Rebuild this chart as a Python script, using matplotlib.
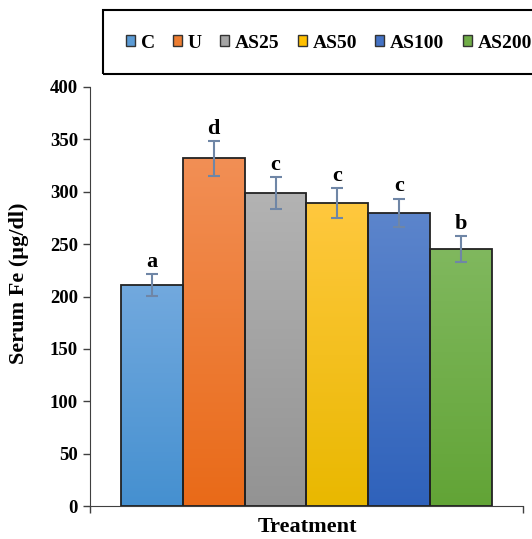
import numpy as np
import matplotlib.pyplot as plt
from matplotlib.patches import Rectangle
from matplotlib.colors import LinearSegmentedColormap

plt.rcParams['font.family'] = ['Liberation Serif', 'DejaVu Serif']
plt.rcParams['font.weight'] = 'bold'

groups = ['C', 'U', 'AS25', 'AS50', 'AS100', 'AS200']
means = [211, 332, 299, 289, 280, 245]
errors = [10.5, 16.5, 15, 14.5, 13.5, 12.5]
letters = ['a', 'd', 'c', 'c', 'c', 'b']
# (top colour, bottom colour) of each bar's gradient
top_colors = ['#72a9de', '#f28f55', '#b3b3b3', '#ffc83e', '#5c85cc', '#80b85e']
bottom_colors = ['#4590d0', '#e96a18', '#939393', '#e9b800', '#2f62bb', '#62a436']
legend_colors = ['#5b9bd5', '#ed7d31', '#a5a5a5', '#ffc000', '#4472c4', '#70ad47']

W, H = 532, 539
fig = plt.figure(figsize=(5.32, 5.39), dpi=100)
ax = fig.add_axes([0.169, 0.0612, 0.814, 0.7774])

x = np.arange(len(groups))
bars = ax.bar(x, means, width=1.0, color='none', edgecolor='#222222', linewidth=1.3, zorder=3)

# vertical gradient inside each bar
for b, c1, c2 in zip(bars, top_colors, bottom_colors):
    cmap = LinearSegmentedColormap.from_list('g', [c2, c1])
    grad = np.linspace(0, 1, 256).reshape(-1, 1)
    x0, w, h = b.get_x(), b.get_width(), b.get_height()
    im = ax.imshow(grad, cmap=cmap, aspect='auto', origin='lower',
                   extent=[x0, x0 + w, 0, h], zorder=2)
    im.set_clip_path(b)

ax.errorbar(x, means, yerr=errors, fmt='none', ecolor='#6f86a6', elinewidth=1.5,
            capsize=4.5, capthick=1.5, zorder=4)

for xi, m, e, t in zip(x, means, errors, letters):
    ax.text(xi, m + e + 2, t, ha='center', va='bottom', fontsize=16, fontweight='bold')

ax.set_xlim(-1, 6)
ax.set_ylim(0, 400)
ax.set_yticks(np.arange(0, 401, 50))
ax.set_xticks([-1, 6])
ax.set_xticklabels([])
ax.tick_params(axis='y', direction='out', length=5, width=1, labelsize=13.5, colors='#404040', labelcolor='black')
ax.tick_params(axis='x', direction='out', length=5, width=1, colors='#404040')
for lab in ax.get_yticklabels():
    lab.set_fontweight('bold')
ax.spines['top'].set_visible(False)
ax.spines['right'].set_visible(False)
ax.spines['left'].set_color('#404040')
ax.spines['bottom'].set_color('#404040')

fig.text(19 / W, 1 - 283 / H, 'Serum Fe (µg/dl)', rotation=90, ha='center', va='center',
         fontsize=16, fontweight='bold')
fig.text(307 / W, 1 - 527 / H, 'Treatment', ha='center', va='center', fontsize=16, fontweight='bold')

# legend with a frame that runs off the right edge
fig.patches.append(Rectangle((103 / W, 1 - 74 / H), 0.85, 64 / H, transform=fig.transFigure,
                             fill=False, edgecolor='black', linewidth=1.5, clip_on=False))
handles = [Rectangle((0, 0), 1, 1, facecolor=c, edgecolor='#333333', linewidth=1) for c in legend_colors]
fig.legend(handles, groups, loc='center left', bbox_to_anchor=(126 / W, 1 - 43 / H), ncol=6,
           frameon=False, handlelength=0.45, handleheight=0.45, handletextpad=0.3,
           columnspacing=0.95, prop={'weight': 'bold', 'size': 14}, borderpad=0, borderaxespad=0)

fig.savefig('out.png', dpi=100)
